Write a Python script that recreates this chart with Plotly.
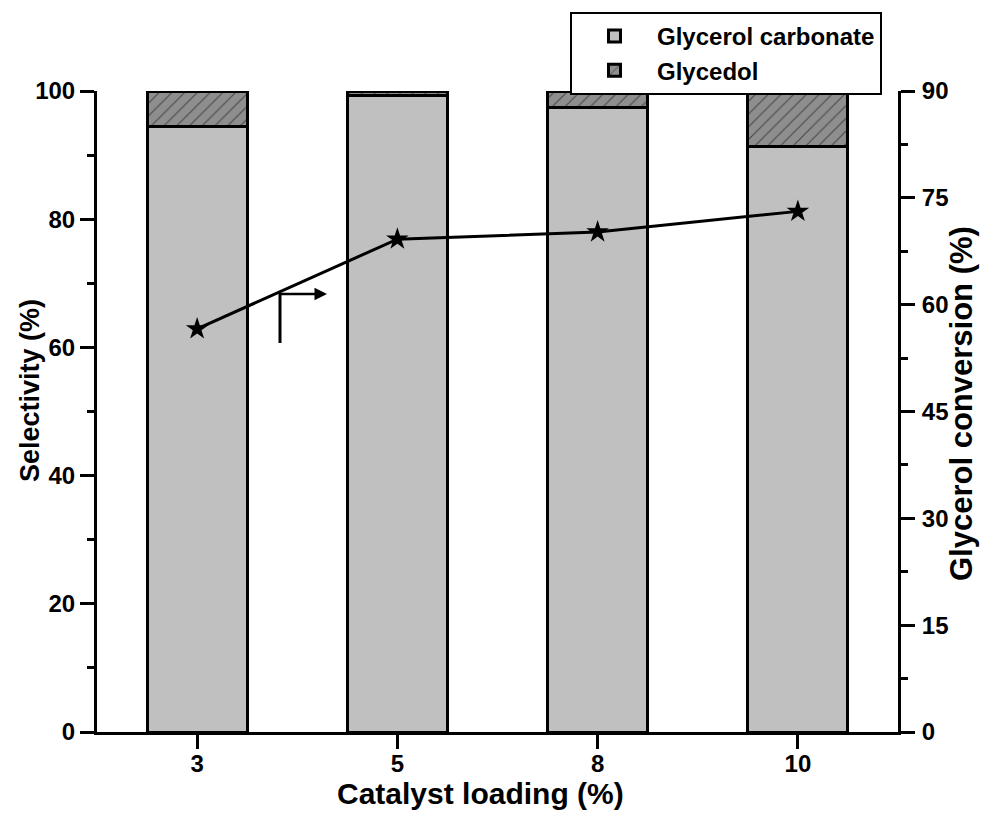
import plotly.graph_objects as go

categories = ["3", "5", "8", "10"]
gc_selectivity = [94.5, 99.3, 97.5, 91.3]
glycidol_selectivity = [5.5, 0.7, 2.5, 8.7]
conversion = [56.6, 69.2, 70.2, 73.1]
left_ticks = [0, 20, 40, 60, 80, 100]
right_ticks = [0, 15, 30, 45, 60, 75, 90]

xpos = list(range(len(categories)))
FONT = "Liberation Sans, Arial, sans-serif"
L, R, T, B = 97, 86, 91, 83
PW, PH = 984 - L - R, 815 - T - B


def px(x):
    return (x - L) / PW


def py(y):
    return (815 - B - y) / PH


fig = go.Figure()
fig.add_trace(go.Bar(
    x=xpos, y=gc_selectivity, name="<b>Glycerol carbonate</b>", width=0.5,
    marker=dict(color="#c0c0c0", line=dict(color="black", width=3)),
))
fig.add_trace(go.Bar(
    x=xpos, y=glycidol_selectivity, name="<b>Glycedol</b>", width=0.5,
    marker=dict(color="#8e8e8e", line=dict(color="black", width=3),
                pattern=dict(shape="/", fgcolor="black", bgcolor="#8e8e8e", size=9, solidity=0.12)),
))
fig.add_trace(go.Scatter(
    x=xpos, y=conversion, yaxis="y2", mode="lines+markers", showlegend=False,
    line=dict(color="black", width=3),
    marker=dict(symbol="star", size=17, color="black"),
))

axis_common = dict(
    showline=True, linecolor="black", linewidth=3, ticks="outside", ticklen=14,
    tickwidth=3, tickcolor="black", showgrid=False, zeroline=False, automargin=False,
    tickfont=dict(family=FONT, size=24, color="black"),
)

fig.update_layout(
    width=984, height=815, barmode="stack", plot_bgcolor="white", paper_bgcolor="white",
    margin=dict(l=L, r=R, t=T, b=B),
    font=dict(family=FONT, color="black"),
    xaxis=dict(**axis_common, range=[-0.5, 3.5], tickmode="array", tickvals=xpos,
               ticktext=[f"<b>{c}</b>" for c in categories], ticklabelstandoff=-6),
    yaxis=dict(**axis_common, range=[0, 100], tickmode="array", tickvals=left_ticks,
               ticktext=[f"<b>{v}</b>" for v in left_ticks], ticklabelstandoff=0,
               minor=dict(ticks="outside", ticklen=7, tickwidth=3, tickcolor="black", dtick=10, tick0=0)),
    yaxis2=dict(**axis_common, overlaying="y", side="right", range=[0, 90], tickmode="array",
                tickvals=right_ticks, ticktext=[f"<b>{v}</b>" for v in right_ticks], ticklabelstandoff=2,
                minor=dict(ticks="outside", ticklen=7, tickwidth=3, tickcolor="black", dtick=7.5, tick0=0)),
    legend=dict(x=px(570), y=py(12), xanchor="left", yanchor="top", bordercolor="black", borderwidth=2,
                font=dict(family=FONT, size=24), traceorder="normal", bgcolor="white",
                itemwidth=75, tracegroupgap=0),
)

fig.add_annotation(text="<b>Catalyst loading (%)</b>", xref="paper", yref="paper", x=px(480), y=py(793),
                   xanchor="center", yanchor="middle", showarrow=False, font=dict(family=FONT, size=30))
fig.add_annotation(text="<b>Selectivity (%)</b>", xref="paper", yref="paper", x=px(30), y=py(391),
                   xanchor="center", yanchor="middle", textangle=-90, showarrow=False,
                   font=dict(family=FONT, size=27))
fig.add_annotation(text="<b>Glycerol conversion (%)</b>", xref="paper", yref="paper", x=px(961), y=py(404),
                   xanchor="center", yanchor="middle", textangle=-90, showarrow=False,
                   font=dict(family=FONT, size=31))

# arrow pointing to right axis
fig.add_shape(type="line", xref="paper", yref="paper",
              x0=px(280), x1=px(280), y0=py(343), y1=py(293),
              line=dict(color="black", width=3))
fig.add_annotation(xref="paper", yref="paper", axref="pixel", ayref="pixel",
                   x=px(327), y=py(294), ax=-48, ay=0,
                   showarrow=True, arrowhead=2, arrowsize=1, arrowwidth=2.5, arrowcolor="black", text="")

fig.write_html("out.html")
